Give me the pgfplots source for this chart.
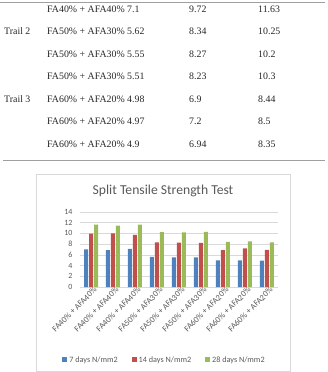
\documentclass[border=0pt]{standalone}
\usepackage{pgfplots}
\pgfplotsset{compat=1.18}
\usepackage{fontspec}
\setmainfont{Liberation Serif}
\newfontfamily\tnr{Liberation Serif}
\newfontfamily\calibri{Carlito}
\definecolor{xblue}{HTML}{4F81BD}
\definecolor{xred}{HTML}{C0504D}
\definecolor{xgreen}{HTML}{9BBB59}
\definecolor{xgrid}{HTML}{D9D9D9}
\definecolor{xtext}{HTML}{595959}
\begin{document}
\begin{tikzpicture}
\path[use as bounding box] (0bp,0bp) rectangle (328bp,372bp);
% table
\draw[gray!75, line width=0.8bp] (0bp,369.7bp) -- (325bp,369.7bp);
\draw[gray!75, line width=0.8bp] (3bp,212bp) -- (325bp,212bp);
\begin{scope}[every node/.style={inner sep=0pt, anchor=base west, font=\tnr\fontsize{9.9}{11}\selectfont, text=black!85}]
\node at (47bp,359.5bp) {FA40\% + AFA40\% 7.1};
\node at (189bp,359.5bp) {9.72};
\node at (258bp,359.5bp) {11.63};
\node at (4bp,337bp) {Trail 2};
\node at (47bp,337bp) {FA50\% + AFA30\% 5.62};
\node at (189bp,337bp) {8.34};
\node at (258bp,337bp) {10.25};
\node at (47bp,314.5bp) {FA50\% + AFA30\% 5.55};
\node at (189bp,314.5bp) {8.27};
\node at (258bp,314.5bp) {10.2};
\node at (47bp,292bp) {FA50\% + AFA30\% 5.51};
\node at (189bp,292bp) {8.23};
\node at (258bp,292bp) {10.3};
\node at (4bp,269.5bp) {Trail 3};
\node at (47bp,269.5bp) {FA60\% + AFA20\% 4.98};
\node at (189bp,269.5bp) {6.9};
\node at (258bp,269.5bp) {8.44};
\node at (47bp,247bp) {FA60\% + AFA20\% 4.97};
\node at (189bp,247bp) {7.2};
\node at (258bp,247bp) {8.5};
\node at (47bp,224.5bp) {FA60\% + AFA20\% 4.9};
\node at (189bp,224.5bp) {6.94};
\node at (258bp,224.5bp) {8.35};
\end{scope}
% chart frame
\draw[xgrid, line width=0.75bp] (36bp,1bp) rectangle (290bp,198bp);
\node[font=\calibri\fontsize{13.7}{15}\selectfont, text=xtext] at (163bp,181bp) {Split Tensile Strength Test};
\begin{axis}[
  at={(80bp,85bp)}, anchor=south west,
  scale only axis, width=198bp, height=75bp,
  ymin=0, ymax=14, ytick={0,2,...,14},
  xmin=-0.5, xmax=8.5,
  xtick={0,...,8},
  xticklabels={FA40\% + AFA40\%,FA40\% + AFA40\%,FA40\% + AFA40\%,FA50\% + AFA30\%,FA50\% + AFA30\%,FA50\% + AFA30\%,FA60\% + AFA20\%,FA60\% + AFA20\%,FA60\% + AFA20\%},
  x tick label style={rotate=45, anchor=north east, font=\calibri\fontsize{8.5}{10}\selectfont, text=xtext, inner sep=1pt, xshift=3bp},
  y tick label style={font=\calibri\fontsize{8}{10}\selectfont, text=xtext, xshift=-4bp},
  /pgf/number format/assume math mode=true,
  separate axis lines,
  axis x line*=bottom, axis y line*=left,
  x axis line style={xgrid, line width=0.75bp, -},
  y axis line style={draw=none},
  ymajorgrids, grid style={xgrid, line width=0.6bp},
  major tick length=0pt,
  ybar=1bp, bar width=4bp,
  legend columns=3,
  legend style={at={(0.427,-0.973)}, anchor=center, draw=none, fill=none,
    font=\calibri\fontsize{8.2}{10}\selectfont, text=xtext,
    /tikz/every even column/.append style={column sep=12bp}},
  legend image code/.code={\fill[#1,draw=none] (0bp,-2.5bp) rectangle (5bp,2.5bp);},
  clip=false,
]
\addplot[fill=xblue, draw=none] coordinates {(0,7.0) (1,6.87) (2,7.1) (3,5.62) (4,5.55) (5,5.51) (6,4.98) (7,4.97) (8,4.9)};
\addplot[fill=xred, draw=none] coordinates {(0,9.98) (1,10.0) (2,9.72) (3,8.34) (4,8.27) (5,8.23) (6,6.9) (7,7.2) (8,6.94)};
\addplot[fill=xgreen, draw=none] coordinates {(0,11.66) (1,11.45) (2,11.63) (3,10.25) (4,10.2) (5,10.3) (6,8.44) (7,8.5) (8,8.35)};
\legend{7 days N/mm2,14 days N/mm2,28 days N/mm2}
\end{axis}
\end{tikzpicture}
\end{document}
